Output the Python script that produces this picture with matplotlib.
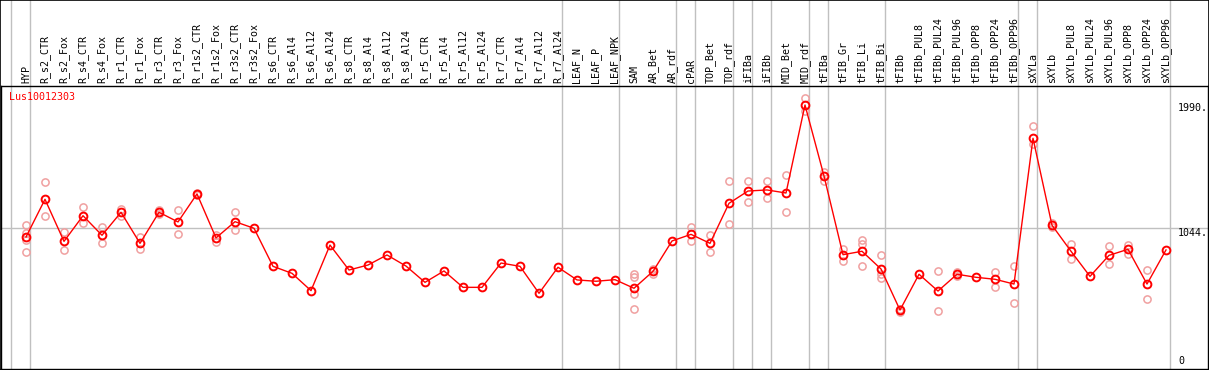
import matplotlib
matplotlib.use("Agg")
import matplotlib.pyplot as plt
from matplotlib.patches import Rectangle
import matplotlib.transforms as mtrans

plt.rcParams['font.family'] = ['DejaVu Sans Mono']
plt.rcParams['font.size'] = 7

gene = "Lus10012303"

labels = ["HYP", "R_s2_CTR", "R_s2_Fox", "R_s4_CTR", "R_s4_Fox", "R_r1_CTR", "R_r1_Fox",
          "R_r3_CTR", "R_r3_Fox", "R_r1s2_CTR", "R_r1s2_Fox", "R_r3s2_CTR", "R_r3s2_Fox",
          "R_s6_CTR", "R_s6_Al4", "R_s6_Al12", "R_s6_Al24", "R_s8_CTR", "R_s8_Al4", "R_s8_Al12",
          "R_s8_Al24", "R_r5_CTR", "R_r5_Al4", "R_r5_Al12", "R_r5_Al24", "R_r7_CTR", "R_r7_Al4",
          "R_r7_Al12", "R_r7_Al24", "LEAF_N", "LEAF_P", "LEAF_NPK", "SAM", "AR_Bet", "AR_rdf",
          "cPAR", "TOP_Bet", "TOP_rdf", "iFIBa", "iFIBb", "MID_Bet", "MID_rdf", "tFIBa",
          "tFIB_Gr", "tFIB_Li", "tFIB_Bi", "tFIBb", "tFIBb_PUL8", "tFIBb_PUL24", "tFIBb_PUL96",
          "tFIBb_OPP8", "tFIBb_OPP24", "tFIBb_OPP96", "sXYLa", "sXYLb", "sXYLb_PUL8",
          "sXYLb_PUL24", "sXYLb_PUL96", "sXYLb_OPP8", "sXYLb_OPP24", "sXYLb_OPP96"]

means = [978, 1263, 945, 1139, 991, 1165, 930, 1165, 1092, 1304, 971, 1094, 1044,
         756, 703, 572, 917, 728, 766, 842, 758, 635, 721, 597, 597, 781, 756, 552, 749, 653,
         643, 655, 590, 718, 948, 998, 930, 1233, 1326, 1334, 1311, 1977, 1440, 844, 870, 736, 425,
         696, 569, 696, 673, 658, 622, 1725, 1067, 870, 680, 839, 885, 622, 880]

reps = [[1069, 1006, 955, 862], [1392, 1135], [1013, 877], [1203, 1082], [1051, 930],
        [1188, 1137], [976, 885], [1182, 1155], [1182, 998], [1312, 1296], [991, 943],
        [1165, 1029], [],
        [], [], [], [], [], [], [], [], [], [], [], [], [], [], [], [], [],
        [], [], [696, 673, 547, 431], [738, 698], [], [1054, 950], [993, 867], [1402, 1074],
        [1402, 1241], [1402, 1271], [1445, 1165], [2028, 1932], [1468, 1404], [887, 799],
        [953, 925, 758], [842, 698, 665], [413, 435],
        [], [718, 418], [680, 712], [], [713, 597], [758, 476], [1818, 1682], [1084, 1056],
        [923, 809], [], [907, 771], [920, 849], [726, 506], []]

# group separators (placed just after these categories)
seps = [-1, 0, 28, 31, 34, 35, 37, 38, 39, 41, 42, 45, 52, 53, 60]

yticks = [1990, 1044, 0]

W, H = 1209, 370
fig = plt.figure(figsize=(W / 100, H / 100), dpi=100)
top_px = 85.7
bot_px = 369
left_px = 1.0
ax = fig.add_axes([left_px / W, (H - bot_px) / H, (1208 - left_px) / W, (bot_px - top_px) / H])
ax.set_xlim((left_px - 26) / 19, (1208 - 26) / 19)
ax.set_ylim(-21, 2123)
ax.set_xticks([])
ax.set_yticks([])
for s in ax.spines.values():
    s.set_color("black")
    s.set_linewidth(1)

ext = 1 + top_px / (bot_px - top_px)
for s in seps:
    ax.axvline(s + 0.22, ymin=0, ymax=ext, color="#c0c0c0", lw=1, clip_on=False, zorder=0)
ax.axhline(1044, color="#c0c0c0", lw=1, zorder=0)

xs = list(range(len(means)))
for i, r in enumerate(reps):
    if r:
        ax.plot([i] * len(r), r, "o", mfc="none", mec="#f0a0a0", ms=5.2, mew=1.1, zorder=2)
ax.plot(xs, means, "-", color="red", lw=1, zorder=3)
ax.plot(xs, means, "o", mfc="none", mec="red", ms=5.6, mew=1.4, zorder=4)

# rotated category labels above the plot
trans = mtrans.blended_transform_factory(ax.transData, ax.transAxes)
for i, lab in enumerate(labels):
    ax.text(i, 1.008, lab, rotation=90, ha="center", va="bottom", transform=trans,
            clip_on=False, fontsize=7.2)

ax.text(0.007, 0.978, gene, color="red", ha="left", va="top", transform=ax.transAxes, fontsize=7.2)

xt = (1178 - 26) / 19
for v in yticks:
    ax.text(xt, v, "%d." % v if v else "0", ha="left", va="top" if v else "bottom", fontsize=7.2)

fig.add_artist(Rectangle((0, 0), 1, 1, transform=fig.transFigure, fill=False, ec="black", lw=1.2))

fig.savefig("out.png", dpi=100)
